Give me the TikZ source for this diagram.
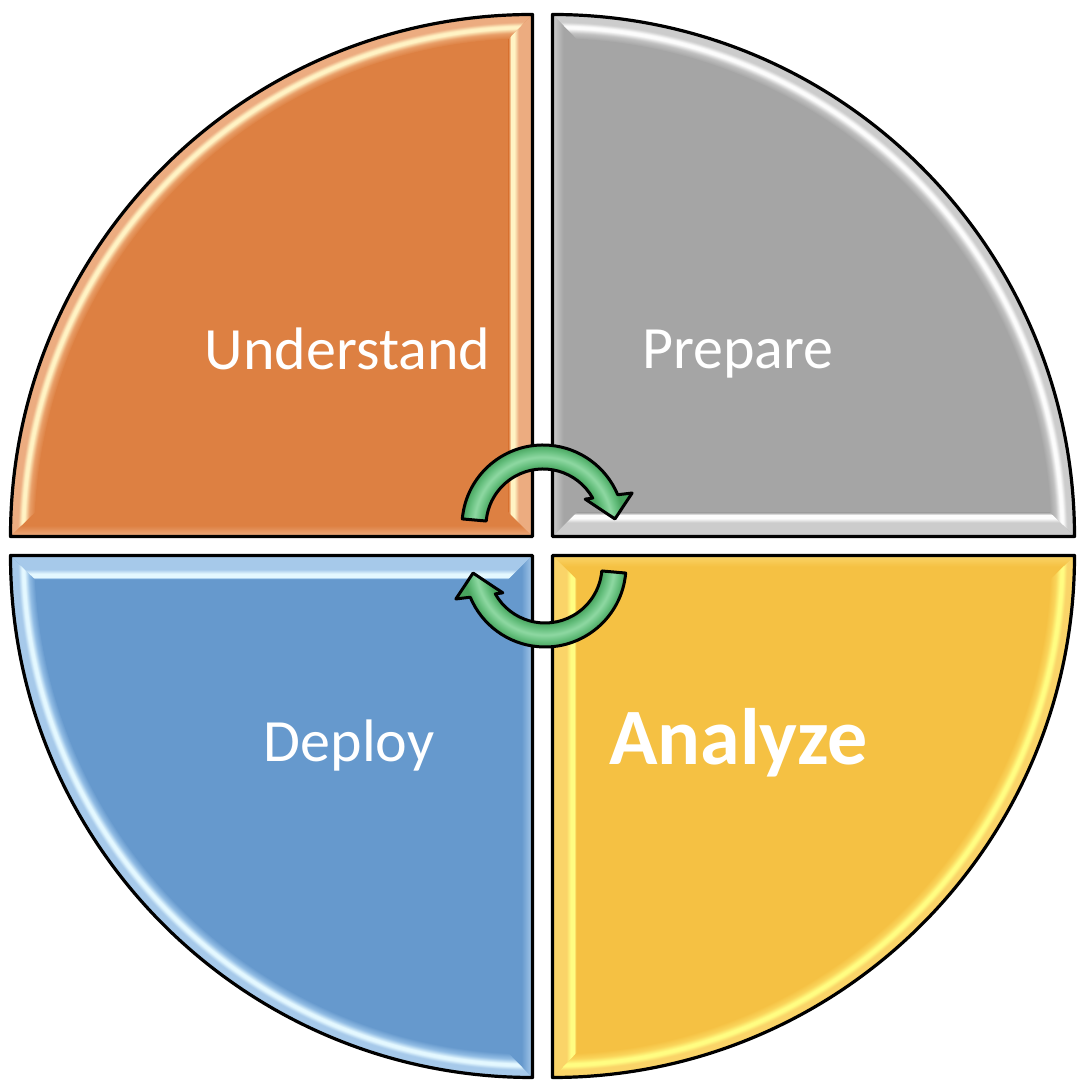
\documentclass[tikz,border=0pt]{standalone}
\usepackage{fontspec}
\setmainfont{Carlito}
\usetikzlibrary{calc}

% quadrant palettes: Base, Mid, Hi (glint), Edge
\definecolor{oBase}{RGB}{221,128,66}
\definecolor{oMid}{RGB}{232,158,104}
\definecolor{oHi}{RGB}{255,243,196}
\definecolor{oEdge}{RGB}{236,172,128}
\definecolor{sBase}{RGB}{165,165,165}
\definecolor{sMid}{RGB}{192,192,192}
\definecolor{sHi}{RGB}{252,252,252}
\definecolor{sEdge}{RGB}{204,204,204}
\definecolor{bBase}{RGB}{102,153,205}
\definecolor{bMid}{RGB}{145,188,228}
\definecolor{bHi}{RGB}{228,248,255}
\definecolor{bEdge}{RGB}{166,201,234}
\definecolor{yBase}{RGB}{245,193,67}
\definecolor{yMid}{RGB}{250,212,90}
\definecolor{yHi}{RGB}{255,253,130}
\definecolor{yEdge}{RGB}{250,212,104}
% arrow greens
\definecolor{grnDark}{RGB}{72,163,94}
\definecolor{grnMid}{RGB}{100,190,124}
\definecolor{grnLight}{RGB}{142,216,162}

% bevel shadings for one palette
\newcommand\makebevel[1]{%
  \pgfdeclareradialshading{#1arc}{\pgfpointorigin}{color(0bp)=(#1Base); color(23.85bp)=(#1Base); color(24.12bp)=(#1Mid); color(24.34bp)=(#1Hi); color(24.46bp)=(#1Hi); color(24.64bp)=(#1Edge); color(25bp)=(#1Edge); color(50bp)=(#1Edge)}%
  \pgfdeclareverticalshading{#1hi}{100bp}{color(0bp)=(#1Base); color(25bp)=(#1Base); color(27bp)=(#1Mid); color(30bp)=(#1Hi); color(37bp)=(#1Hi); color(46bp)=(#1Edge); color(75bp)=(#1Edge); color(100bp)=(#1Edge)}%
  \pgfdeclareverticalshading{#1lo}{100bp}{color(0bp)=(#1Base); color(25bp)=(#1Base); color(52bp)=(#1Base); color(75bp)=(#1Edge); color(100bp)=(#1Edge)}%
}
\makebevel{o}
\makebevel{s}
\makebevel{b}
\makebevel{y}
\pgfdeclareradialshading{greenband}{\pgfpointorigin}{color(0bp)=(grnDark); color(14.25bp)=(grnDark); color(15.6bp)=(grnMid); color(17.25bp)=(grnLight); color(18.9bp)=(grnMid); color(20.25bp)=(grnDark); color(25bp)=(grnDark); color(50bp)=(grnDark)}

\tikzset{
  outl/.style={draw=black, line width=3.2pt, line join=round},
  arrowoutl/.style={draw=black, line width=3pt, line join=round},
  lbl/.style={text=white, inner sep=0pt, anchor=base, font=\fontsize{60}{72}\selectfont},
}

% one quarter disc: corner (#1,#2), direction signs #3,#4,
% arc from #5 to #6 degrees, palette #7, straight-edge bevels #8 (horizontal) and #9 (vertical)
\newcommand\quadpiece[9]{%
  \pgfmathsetmacro\qdir{sign(#6-#5)}%
  \pgfmathsetmacro\qbz{#5+\qdir*2.762}%
  \pgfmathsetmacro\qbo{#6-\qdir*2.762}%
  \pgfmathsetmacro\qha{90+90*#4}%
  \pgfmathsetmacro\qva{180-90*#3}%
  \coordinate (C) at (#1,#2);
  \fill[#7Base] (C) -- ($(C)+(#3*522,0)$) arc[start angle=#5,end angle=#6,radius=522] -- cycle;
  \begin{scope}
    \clip ($(C)+(#3*522,0)$) arc[start angle=#5,end angle=#6,radius=522]
      -- ($(C)+(#3*24,#4*497.42)$) arc[start angle=\qbo,end angle=\qbz,radius=498] -- cycle;
    \shade[shading=#7arc] (C) circle[radius=522];
  \end{scope}
  \shade[shading=#7#8, shading angle=\qha] (C) -- ($(C)+(#3*522,0)$) -- ($(C)+(#3*497.42,#4*24)$) -- ($(C)+(#3*24,#4*24)$) -- cycle;
  \shade[shading=#7#9, shading angle=\qva] (C) -- ($(C)+(0,#4*522)$) -- ($(C)+(#3*24,#4*497.42)$) -- ($(C)+(#3*24,#4*24)$) -- cycle;
  \draw[outl] (C) -- ($(C)+(#3*522,0)$) arc[start angle=#5,end angle=#6,radius=522] -- cycle;
}

% curved cycle arrow around the local origin
\newcommand\cyclearrow{(175:81) arc[start angle=175,end angle=22.7,radius=81] -- (20.3:95) -- (5.6:72.3) -- (32.5:50) -- (29.3:57) arc[start angle=29.3,end angle=175,radius=57] -- cycle}

\begin{document}
\begin{tikzpicture}[x=1pt,y=1pt]
  \fill[white] (0,0) rectangle (1092,1091);
  \useasboundingbox (0,0) rectangle (1092,1091);

  \quadpiece{532.5}{554.5}{-1}{1}{180}{90}{o}{lo}{hi}
  \quadpiece{552.5}{554.5}{1}{1}{0}{90}{s}{hi}{lo}
  \quadpiece{532.5}{535.5}{-1}{-1}{180}{270}{b}{hi}{lo}
  \quadpiece{552.5}{535.5}{1}{-1}{0}{-90}{y}{lo}{hi}

  \node[lbl] (understand) at (347.5,721) {Understand};
  \node[lbl] (prepare) at (738,722) {Prepare};
  \node[lbl] (deploy) at (349,329) {Deploy};
  \node[lbl, font=\fontsize{80}{96}\selectfont\bfseries] (analyze) at (738.5,326) {Analyze};

  \begin{scope}[shift={(543,565)}]
    \begin{scope}
      \clip \cyclearrow;
      \shade[shading=greenband] (0,0) circle[radius=100];
    \end{scope}
    \draw[arrowoutl] \cyclearrow;
  \end{scope}
  \begin{scope}[shift={(545,525)}, rotate=180]
    \begin{scope}
      \clip \cyclearrow;
      \shade[shading=greenband] (0,0) circle[radius=100];
    \end{scope}
    \draw[arrowoutl] \cyclearrow;
  \end{scope}
\end{tikzpicture}
\end{document}
